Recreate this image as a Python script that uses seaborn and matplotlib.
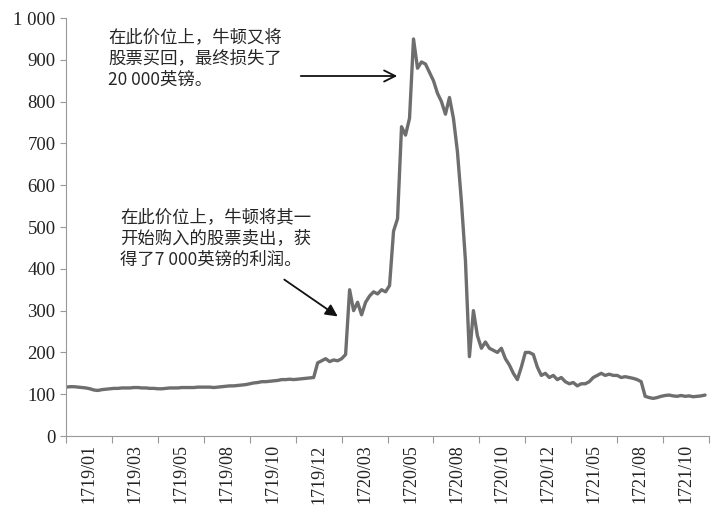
import matplotlib
matplotlib.use("Agg")
import matplotlib.pyplot as plt
import seaborn as sns
import pandas as pd
import numpy as np

prices = [117,118,118,117,116,115,113,110,109,111,112,113,114,114,115,115,115,116,116,115,
          115,114,114,113,113,114,115,115,115,116,116,116,116,117,117,117,117,116,117,118,
          119,120,120,121,122,123,125,127,128,130,130,131,132,133,135,135,136,135,136,137,
          138,139,140,175,180,185,178,182,180,185,195,350,300,320,290,320,335,345,340,350,
          345,360,490,520,740,720,760,950,880,895,890,870,850,820,800,770,810,760,680,560,
          420,190,300,240,210,225,210,205,200,210,185,170,150,135,165,200,200,195,165,145,
          150,140,145,135,140,130,125,128,120,125,125,130,140,145,150,145,148,145,145,140,
          142,140,138,135,130,95,92,90,92,95,97,98,96,95,97,95,96,94,95,96,98]
tick_labels = ["1719/01","1719/03","1719/05","1719/08","1719/10","1719/12","1720/03",
               "1720/05","1720/08","1720/10","1720/12","1721/05","1721/08","1721/10"]
yticks = [0,100,200,300,400,500,600,700,800,900,1000]

df = pd.DataFrame({"obs": np.arange(len(prices)), "price": prices})

sns.set_style("white")
plt.rcParams['font.family'] = ['Liberation Serif', 'Noto Sans CJK SC']
fig = plt.figure(figsize=(7.28, 5.16), dpi=100)
ax = fig.add_axes([0.0907, 0.155, 0.974 - 0.0907, 0.81])
sns.lineplot(data=df, x="obs", y="price", ax=ax, color="#6e6e6e", linewidth=2.4)

n = len(prices)
ax.set_xlim(0, n)
ax.set_ylim(0, 1000)
step = n / 14
ax.set_xticks([step * i for i in range(15)])
ax.set_xticklabels([])
ax.set_xticks([step * (i + 0.5) for i in range(14)], minor=True)
ax.set_xticklabels(tick_labels, minor=True, rotation=90, fontsize=13, color="#222")
ax.tick_params(axis="x", which="major", length=5, color="#999", direction="out", bottom=True)
ax.tick_params(axis="x", which="minor", length=0, pad=6)
ax.set_yticks(yticks)
ax.set_yticklabels([f"{v:,}".replace(",", " ") for v in yticks], fontsize=13.5, color="#222")
ax.tick_params(axis="y", length=4, color="#999", left=True)
ax.set_xlabel(""); ax.set_ylabel("")
for s in ["top", "right"]:
    ax.spines[s].set_visible(False)
for s in ["left", "bottom"]:
    ax.spines[s].set_color("#999")

cjk = ['Noto Sans CJK SC', 'DejaVu Sans']
fig.text(108/728, 1 - 28/516, "在此价位上，牛顿又将\n股票买回，最终损失了\n20 000英镑。",
         family=cjk, fontsize=12.5, va="top", ha="left", linespacing=1.25)
ax.annotate("", xy=(400/728, 1 - 76/516), xytext=(298/728, 1 - 76/516),
            xycoords="figure fraction", textcoords="figure fraction",
            arrowprops=dict(arrowstyle="->", lw=1.3, color="#111", mutation_scale=20))
fig.text(120/728, 1 - 208/516, "在此价位上，牛顿将其一\n开始购入的股票卖出，获\n得了7 000英镑的利润。",
         family=cjk, fontsize=12.5, va="top", ha="left", linespacing=1.25)
ax.annotate("", xy=(340/728, 1 - 318/516), xytext=(282/728, 1 - 278/516),
            xycoords="figure fraction", textcoords="figure fraction",
            arrowprops=dict(arrowstyle="-|>", lw=1.3, color="#111", mutation_scale=18))

fig.savefig("out.png", dpi=100)
